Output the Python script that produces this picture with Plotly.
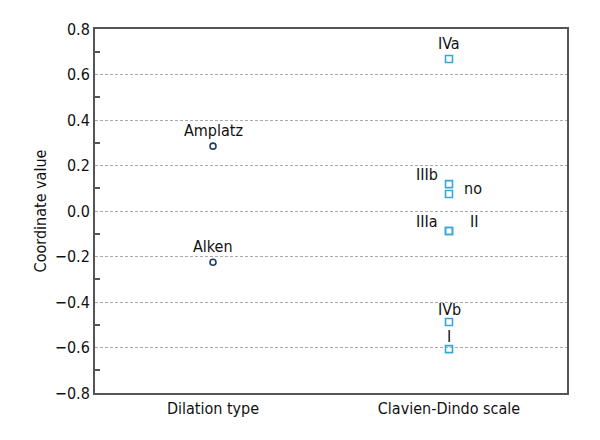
import plotly.graph_objects as go

# ---- data ----
groups = ["Dilation type", "Clavien-Dindo scale"]
dilation_labels = ["Amplatz", "Alken"]
dilation_values = [0.285, -0.225]
clavien_labels = ["IVa", "IIIb", "no", "IIIa", "II", "IVb", "I"]
clavien_values = [0.668, 0.118, 0.075, -0.088, -0.088, -0.488, -0.607]

# ---- label offsets (style, px) ----
dil_offsets = {"Amplatz": (0, 16), "Alken": (0, 16)}
clav_offsets = {"IVa": (0, 16), "IIIb": (-22, 10), "no": (24, 5), "IIIa": (-22, 10),
                "II": (25, 10), "IVb": (0, 13), "I": (0, 13)}

FONT = "DejaVu Sans Condensed, Liberation Sans Narrow, sans-serif"
FS = 16

fig = go.Figure()
fig.add_trace(go.Scatter(
    x=[groups[0]] * len(dilation_values), y=dilation_values, mode="markers",
    marker=dict(symbol="circle-open", size=6, color="#1d3e62", line=dict(width=1.6)),
    showlegend=False, hoverinfo="skip"))
fig.add_trace(go.Scatter(
    x=[groups[1]] * len(clavien_values), y=clavien_values, mode="markers",
    marker=dict(symbol="square-open", size=7, color="#3aa7d9", line=dict(width=1.6)),
    showlegend=False, hoverinfo="skip"))

for lab, v in zip(dilation_labels, dilation_values):
    dx, dy = dil_offsets[lab]
    fig.add_annotation(x=groups[0], y=v, text=lab, showarrow=False,
                       xshift=dx, yshift=dy, font=dict(family=FONT, size=FS, color="#111"))
for lab, v in zip(clavien_labels, clavien_values):
    dx, dy = clav_offsets[lab]
    fig.add_annotation(x=groups[1], y=v, text=lab, showarrow=False,
                       xshift=dx, yshift=dy, font=dict(family=FONT, size=FS, color="#111"))

fig.update_layout(
    width=592, height=432,
    margin=dict(l=87, r=33, t=21, b=47),
    plot_bgcolor="white", paper_bgcolor="white",
    font=dict(family=FONT, size=FS, color="#111"),
    xaxis=dict(type="category", categoryorder="array", categoryarray=groups,
               range=[-0.5, 1.5], showgrid=False, showline=True, mirror=True,
               linecolor="#555", linewidth=2, ticks="", tickfont=dict(size=FS),
               zeroline=False),
    yaxis=dict(range=[-0.8, 0.8], dtick=0.2, tick0=0, tickformat=".1f",
               showline=True, mirror=True, linecolor="#555", linewidth=2,
               ticks="", tickfont=dict(size=16),
               showgrid=True, gridcolor="#aaaaaa", griddash="3px,2px", gridwidth=1,
               zeroline=False,
               minor=dict(ticks="inside", dtick=0.2, tick0=0.1, ticklen=5,
                          tickcolor="#555", tickwidth=1.5, showgrid=False),
               title=dict(text="Coordinate value", font=dict(size=FS), standoff=4)),
)

fig.write_html("out.html")
